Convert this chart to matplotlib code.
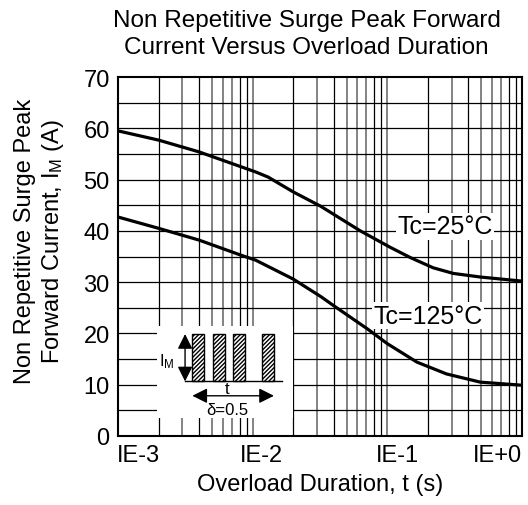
import matplotlib
matplotlib.use('Agg')
import matplotlib.pyplot as plt
import matplotlib.transforms as mtransforms
from matplotlib.patches import Rectangle

plt.rcParams['font.family'] = ['Liberation Sans', 'DejaVu Sans']
plt.rcParams['mathtext.default'] = 'regular'

# curve readings: overload duration t (s) -> peak current I_M (A)
t_25 = [0.001, 0.002, 0.004, 0.0105, 0.013, 0.02, 0.032, 0.063, 0.105,
        0.148, 0.219, 0.309, 0.49, 1.0]
i_25 = [59.5, 57.7, 55.4, 51.5, 50.5, 47.6, 44.8, 40.0, 36.8,
        34.8, 32.8, 31.7, 31.0, 30.2]

t_125 = [0.001, 0.002, 0.004, 0.0081, 0.0105, 0.02, 0.032, 0.04, 0.071,
         0.1, 0.166, 0.275, 0.49, 1.0]
i_125 = [42.7, 40.5, 38.2, 35.3, 34.3, 30.6, 27.2, 25.4, 20.9,
         18.0, 14.4, 12.1, 10.5, 9.9]

xticks = [1e-3, 1e-2, 1e-1, 1.0]
xticklabels = ['IE-3', 'IE-2', 'IE-1', 'IE+0']
yticks = [0, 10, 20, 30, 40, 50, 60, 70]

fig = plt.figure(figsize=(5.28, 5.06), dpi=100)
ax = fig.add_axes([0.2235, 0.1364, 0.7651, 0.7094])

ax.set_xscale('log')
ax.set_xlim(1e-3, 1.0)
ax.set_ylim(0, 70)

# grid, datasheet style: some lines black, some gray
for dec in [1e-3, 1e-2, 1e-1]:
    for m in range(2, 11):
        if m in (2, 4, 8, 9):
            ax.axvline(m * dec, color='black', lw=0.9, zorder=1)
        else:
            ax.axvline(m * dec, color='#7a7a7a', lw=1.3, zorder=1)
for y in range(5, 70, 5):
    ax.axhline(y, color='black', lw=0.9, zorder=1)

ax.plot(t_25, i_25, color='black', lw=2.3, zorder=4, solid_joinstyle='round')
ax.plot(t_125, i_125, color='black', lw=2.3, zorder=4, solid_joinstyle='round')

ax.text(10**-0.57, 40.9, 'Tc=25°C', fontsize=18, ha='center', va='center',
        zorder=5, bbox=dict(facecolor='white', edgecolor='none', pad=1))
ax.text(10**-0.70, 23.4, 'Tc=125°C', fontsize=18, ha='center', va='center',
        zorder=5, bbox=dict(facecolor='white', edgecolor='none', pad=1))

ax.set_xticks(xticks)
ax.set_xticklabels(xticklabels)
ax.xaxis.set_minor_locator(matplotlib.ticker.NullLocator())
ax.set_yticks(yticks)
ax.tick_params(length=0, labelsize=17, pad=6)

# the datasheet labels sit a bit off the decade lines
shifts = [20, 9, 10, -25]
for lab, dx in zip(ax.get_xticklabels(), shifts):
    lab.set_transform(lab.get_transform() +
                      mtransforms.ScaledTranslation(dx / 100, 0, fig.dpi_scale_trans))

for s in ax.spines.values():
    s.set_linewidth(1.5)
    s.set_zorder(6)

ax.set_xlabel('Overload Duration, t (s)', fontsize=17, labelpad=5)
fig.text(0.047, 0.522, 'Non Repetitive Surge Peak', fontsize=17, rotation=90,
         ha='center', va='center')
fig.text(0.100, 0.522, 'Forward Current, I$_M$ (A)', fontsize=17, rotation=90,
         ha='center', va='center')
fig.text(0.581, 0.958, 'Non Repetitive Surge Peak Forward', fontsize=17.5,
         ha='center', va='center')
fig.text(0.581, 0.905, 'Current Versus Overload Duration', fontsize=17.5,
         ha='center', va='center')

# inset pulse sketch
tr = ax.transAxes
ax.add_patch(Rectangle((0.097, 0.05), 0.336, 0.256, transform=tr,
                       facecolor='white', edgecolor='none', zorder=2))
ax.plot([0.166, 0.407], [0.152, 0.152], transform=tr, color='black',
        lw=1, zorder=3)
for x0 in [0.184, 0.236, 0.285, 0.357]:
    ax.add_patch(Rectangle((x0, 0.152), 0.029, 0.132, transform=tr,
                           facecolor='white', edgecolor='black', lw=1,
                           hatch='////////', zorder=3))
ax.annotate('', xy=(0.166, 0.284), xytext=(0.166, 0.152), xycoords=tr,
            arrowprops=dict(arrowstyle='<|-|>,head_length=0.6,head_width=0.3',
                            mutation_scale=15, color='black', lw=1,
                            shrinkA=0, shrinkB=0), zorder=3)
ax.annotate('', xy=(0.184, 0.112), xytext=(0.386, 0.112), xycoords=tr,
            arrowprops=dict(arrowstyle='<|-|>,head_length=0.6,head_width=0.3',
                            mutation_scale=15, color='black', lw=1,
                            shrinkA=0, shrinkB=0), zorder=3)
ax.text(0.121, 0.209, 'I$_M$', transform=tr, fontsize=12, ha='center',
        va='center', zorder=3)
ax.text(0.270, 0.133, 't', transform=tr, fontsize=12, ha='center',
        va='center', zorder=3)
ax.text(0.270, 0.075, 'δ=0.5', transform=tr, fontsize=12, ha='center',
        va='center', zorder=3)

fig.savefig('out.png', dpi=100)
